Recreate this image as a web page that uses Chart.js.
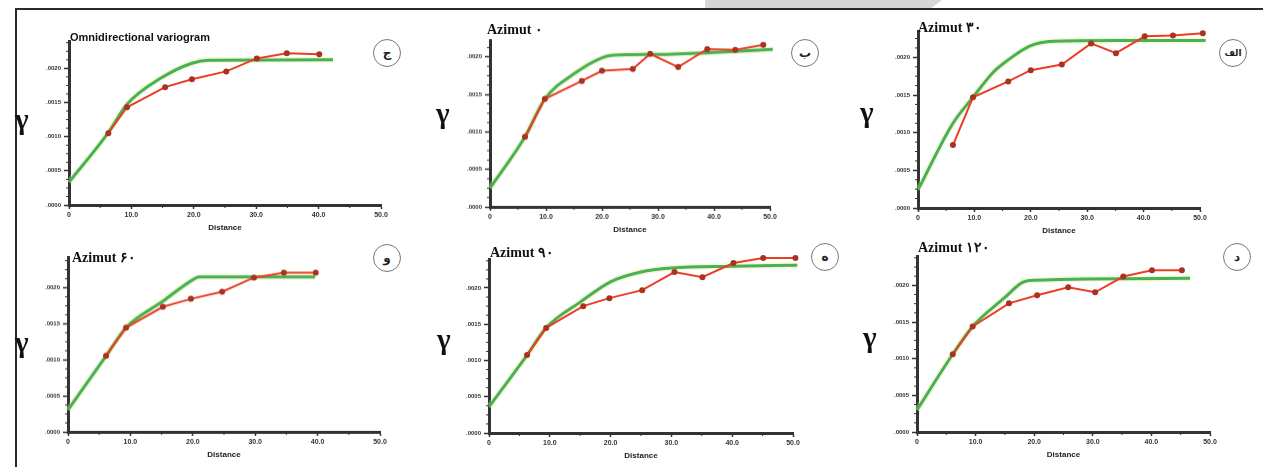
<!DOCTYPE html>
<html>
<head>
<meta charset="utf-8">
<script src="https://cdn.jsdelivr.net/npm/chart.js@4.4.1/dist/chart.umd.min.js"></script>
<style>
  html,body{margin:0;padding:0;background:#fff;}
  #stage{position:relative;width:1263px;height:467px;overflow:hidden;background:#fff;}
  canvas{position:absolute;}
  .lbl{position:absolute;white-space:nowrap;color:#111;}
  .gamma{font-family:"Liberation Serif","DejaVu Serif",serif;font-weight:bold;font-size:29px;line-height:1;}
  .ttl{font-family:"Liberation Serif","DejaVu Serif",serif;font-weight:bold;font-size:14px;line-height:1;}
  .omni{font-family:"Liberation Sans","DejaVu Sans",sans-serif;font-weight:bold;font-size:11px;line-height:1;}
  .circ{position:absolute;width:26px;height:26px;border:1.5px solid #777;border-radius:50%;
        font-family:"DejaVu Sans",sans-serif;font-weight:bold;font-size:12px;display:flex;align-items:center;justify-content:center;color:#222;background:#fff;}
  .circ.small{font-size:9px;}
</style>
</head>
<body>
<div id="stage"></div>
<script>
// ---------- tick labels ----------
const xTickValues = [0, 10, 20, 30, 40, 50];
const xTickLabels = ['0', '10.0', '20.0', '30.0', '40.0', '50.0'];
const yTickValues = [0, 1, 2, 3, 4];
const yTickLabels = ['.0000', '.0005', '.0010', '.0015', '.0020'];

// ---------- panel texts ----------
const panelTitles  = ['Omnidirectional variogram', 'Azimut ۰', 'Azimut ۳۰', 'Azimut ۶۰', 'Azimut ۹۰', 'Azimut ۱۲۰'];
const panelLetters = ['ج', 'ب', 'الف', 'و', 'ه', 'د'];

// ---------- experimental variograms (red) ----------
const lag1 = [6.3, 9.3, 15.4, 19.7, 25.2, 30.1, 34.9, 40.1];
const gam1 = [2.10, 2.86, 3.45, 3.68, 3.91, 4.29, 4.44, 4.41];
const lag2 = [6.25, 9.8, 16.4, 20.0, 25.5, 28.6, 33.6, 38.8, 43.8, 48.8];
const gam2 = [1.87, 2.88, 3.36, 3.63, 3.68, 4.08, 3.73, 4.21, 4.19, 4.32];
const lag3 = [6.2, 9.75, 16.0, 20.0, 25.5, 30.7, 35.1, 40.2, 45.2, 50.5];
const gam3 = [1.67, 2.94, 3.36, 3.66, 3.81, 4.37, 4.11, 4.56, 4.58, 4.64];
const lag4 = [6.1, 9.3, 15.2, 19.7, 24.7, 29.8, 34.6, 39.7];
const gam4 = [2.11, 2.89, 3.47, 3.69, 3.89, 4.28, 4.42, 4.42];
const lag5 = [6.26, 9.4, 15.5, 19.8, 25.2, 30.5, 35.1, 40.2, 45.1, 50.4];
const gam5 = [2.15, 2.90, 3.50, 3.72, 3.94, 4.44, 4.30, 4.69, 4.83, 4.83];
const lag6 = [6.1, 9.5, 15.7, 20.5, 25.8, 30.4, 35.2, 40.1, 45.2];
const gam6 = [2.12, 2.88, 3.51, 3.73, 3.95, 3.81, 4.24, 4.41, 4.41];

// ---------- fitted models (green) ----------
const mlag1 = [0, 6.3, 9.3, 14.6, 19.7, 22.5, 42.3];
const mod1  = [0.67, 2.12, 2.95, 3.70, 4.15, 4.24, 4.25];
const mlag2 = [0, 6.25, 9.8, 15.0, 20.0, 22.0, 30.0, 40.0, 50.5];
const mod2  = [0.50, 1.87, 2.88, 3.55, 3.98, 4.05, 4.07, 4.12, 4.20];
const mlag3 = [0, 6.2, 9.75, 13.3, 15.7, 19.8, 24.0, 35.0, 51.0];
const mod3  = [0.48, 2.25, 2.94, 3.60, 3.90, 4.30, 4.43, 4.45, 4.45];
const mlag4 = [0, 6.1, 9.3, 15.0, 20.0, 21.0, 39.6];
const mod4  = [0.61, 2.11, 2.89, 3.60, 4.22, 4.30, 4.30];
const mlag5 = [0, 6.26, 9.4, 15.0, 20.0, 25.0, 30.0, 40.0, 50.7];
const mod5  = [0.72, 2.15, 2.90, 3.61, 4.17, 4.44, 4.55, 4.60, 4.63];
const mlag6 = [0, 6.1, 9.5, 15.0, 18.0, 20.0, 46.6];
const mod6  = [0.60, 2.12, 2.88, 3.67, 4.08, 4.14, 4.19];

const expLags = [lag1, lag2, lag3, lag4, lag5, lag6];
const expGams = [gam1, gam2, gam3, gam4, gam5, gam6];
const modLags = [mlag1, mlag2, mlag3, mlag4, mlag5, mlag6];
const modVals = [mod1, mod2, mod3, mod4, mod5, mod6];
const yMaxes  = [4.8, 4.45, 4.7, 4.85, 4.8, 4.8];

// ---------- layout (pixel geometry of each panel) ----------
const layout = [
  {L:69,  R:381,  y0:205, unit:34.25, gx:24,  gy:121, tx:70,  ty:32, cx:387,  cy:53},
  {L:490, R:770,  y0:207, unit:37.5,  gx:445, gy:115, tx:487, ty:23, cx:805,  cy:53},
  {L:918, R:1200, y0:208, unit:37.75, gx:869, gy:114, tx:918, ty:21, cx:1233, cy:53},
  {L:68,  R:380,  y0:432, unit:36,    gx:24,  gy:344, tx:72,  ty:251,cx:387,  cy:258},
  {L:489, R:793,  y0:433, unit:36.25, gx:446, gy:341, tx:490, ty:246,cx:825,  cy:257},
  {L:917, R:1210, y0:432, unit:36.75, gx:872, gy:339, tx:918, ty:241,cx:1237, cy:257}
];
const YW = 50, PT = 14, PR = 16, XH = 30;

const stage = document.getElementById('stage');

function addDiv(style, cls, text){
  const d = document.createElement('div');
  if (cls) d.className = cls;
  Object.assign(d.style, style);
  if (text !== undefined) d.textContent = text;
  stage.appendChild(d);
  return d;
}
addDiv({position:'absolute', left:'705px', top:'0px', width:'237px', height:'9px', background:'#d6d6d6',
        clipPath:'polygon(0 0,100% 0,95% 100%,-5% 100%)'});
addDiv({position:'absolute', left:'15px', top:'8px', width:'1248px', height:'2px', background:'#2a2a2a'});
addDiv({position:'absolute', left:'15px', top:'8px', width:'2px', height:'459px', background:'#2a2a2a'});

const minorTicks = {
  id: 'minorTicks',
  afterDraw(chart){
    const ys = chart.scales.y, xs = chart.scales.x, ctx = chart.ctx;
    ctx.save();
    ctx.strokeStyle = '#333';
    ctx.lineWidth = 1;
    for (let k = 1; k * 0.25 <= ys.max; k++){
      if (k % 4 === 0) continue;
      const py = ys.getPixelForValue(k * 0.25);
      ctx.beginPath(); ctx.moveTo(ys.right - 3, py); ctx.lineTo(ys.right, py); ctx.stroke();
    }
    for (let k = 1; k * 5 < xs.max; k += 2){
      const px = xs.getPixelForValue(k * 5);
      ctx.beginPath(); ctx.moveTo(px, xs.top); ctx.lineTo(px, xs.top + 3); ctx.stroke();
    }
    ctx.restore();
  }
};

layout.forEach((g, i) => {
  const ymax = yMaxes[i];
  const T = g.y0 - ymax * g.unit;
  const cv = document.createElement('canvas');
  const w = (g.R - g.L) + YW + PR;
  const h = (g.y0 - T) + PT + XH;
  cv.width = w; cv.height = h;
  cv.style.left = (g.L - YW) + 'px';
  cv.style.top = (T - PT) + 'px';
  cv.style.width = w + 'px'; cv.style.height = h + 'px';
  stage.appendChild(cv);

  const model = modVals[i].map((v, k) => ({x: modLags[i][k], y: v}));
  const exp = expGams[i].map((v, k) => ({x: expLags[i][k], y: v}));

  new Chart(cv, {
    type: 'line',
    data: { datasets: [
      {data: model, borderColor: 'rgba(225,230,150,0.35)', borderWidth: 6, pointRadius: 0,
       cubicInterpolationMode: 'monotone', clip: false, order: 3},
      {data: model, borderColor: '#47b153', borderWidth: 3, pointRadius: 0,
       cubicInterpolationMode: 'monotone', clip: false, order: 2},
      {data: exp, borderColor: '#ec3d26', borderWidth: 2, pointRadius: 3, pointBorderWidth: 0,
       pointBackgroundColor: '#a93220', tension: 0, clip: false, order: 1}
    ]},
    options: {
      responsive: false, animation: false, devicePixelRatio: 1,
      layout: {padding: {left: 0, top: PT, right: PR, bottom: 0}},
      plugins: {legend: {display: false}, tooltip: {enabled: false}, title: {display: false}},
      scales: {
        x: {
          type: 'linear', min: 0, max: 50,
          afterBuildTicks: s => { s.ticks = xTickValues.map(v => ({value: v})); },
          afterFit: s => { s.height = XH; },
          ticks: {callback: v => xTickLabels[xTickValues.indexOf(v)], maxRotation: 0, autoSkip: false,
                  font: {family: 'Liberation Sans', size: 7, weight: 'bold'}, color: '#333', padding: 2},
          grid: {drawOnChartArea: false, drawTicks: true, tickLength: 4, color: '#333', tickWidth: 1.5},
          border: {display: true, color: '#333', width: 3},
          title: {display: true, text: 'Distance', color: '#222',
                  font: {family: 'Liberation Sans', size: 8, weight: 'bold'}, padding: {top: 1, bottom: 2}}
        },
        y: {
          type: 'linear', min: 0, max: ymax,
          afterBuildTicks: s => { s.ticks = yTickValues.map(v => ({value: v})); },
          afterFit: s => { s.width = YW; },
          ticks: {callback: v => yTickLabels[yTickValues.indexOf(v)], autoSkip: false,
                  font: {family: 'Liberation Sans', size: 6, weight: 'bold'}, color: '#333', padding: 3},
          grid: {drawOnChartArea: false, drawTicks: true, tickLength: 5, color: '#333', tickWidth: 1.5},
          border: {display: true, color: '#333', width: 3}
        }
      }
    },
    plugins: [minorTicks]
  });

  addDiv({left: (g.gx - 9) + 'px', top: (g.gy - 16) + 'px'}, 'lbl gamma', 'γ');
  addDiv({left: g.tx + 'px', top: g.ty + 'px'}, i === 0 ? 'lbl omni' : 'lbl ttl', panelTitles[i]);
  addDiv({left: (g.cx - 14) + 'px', top: (g.cy - 14) + 'px'},
         panelLetters[i].length > 1 ? 'circ small' : 'circ', panelLetters[i]);
});
</script>
</body>
</html>
